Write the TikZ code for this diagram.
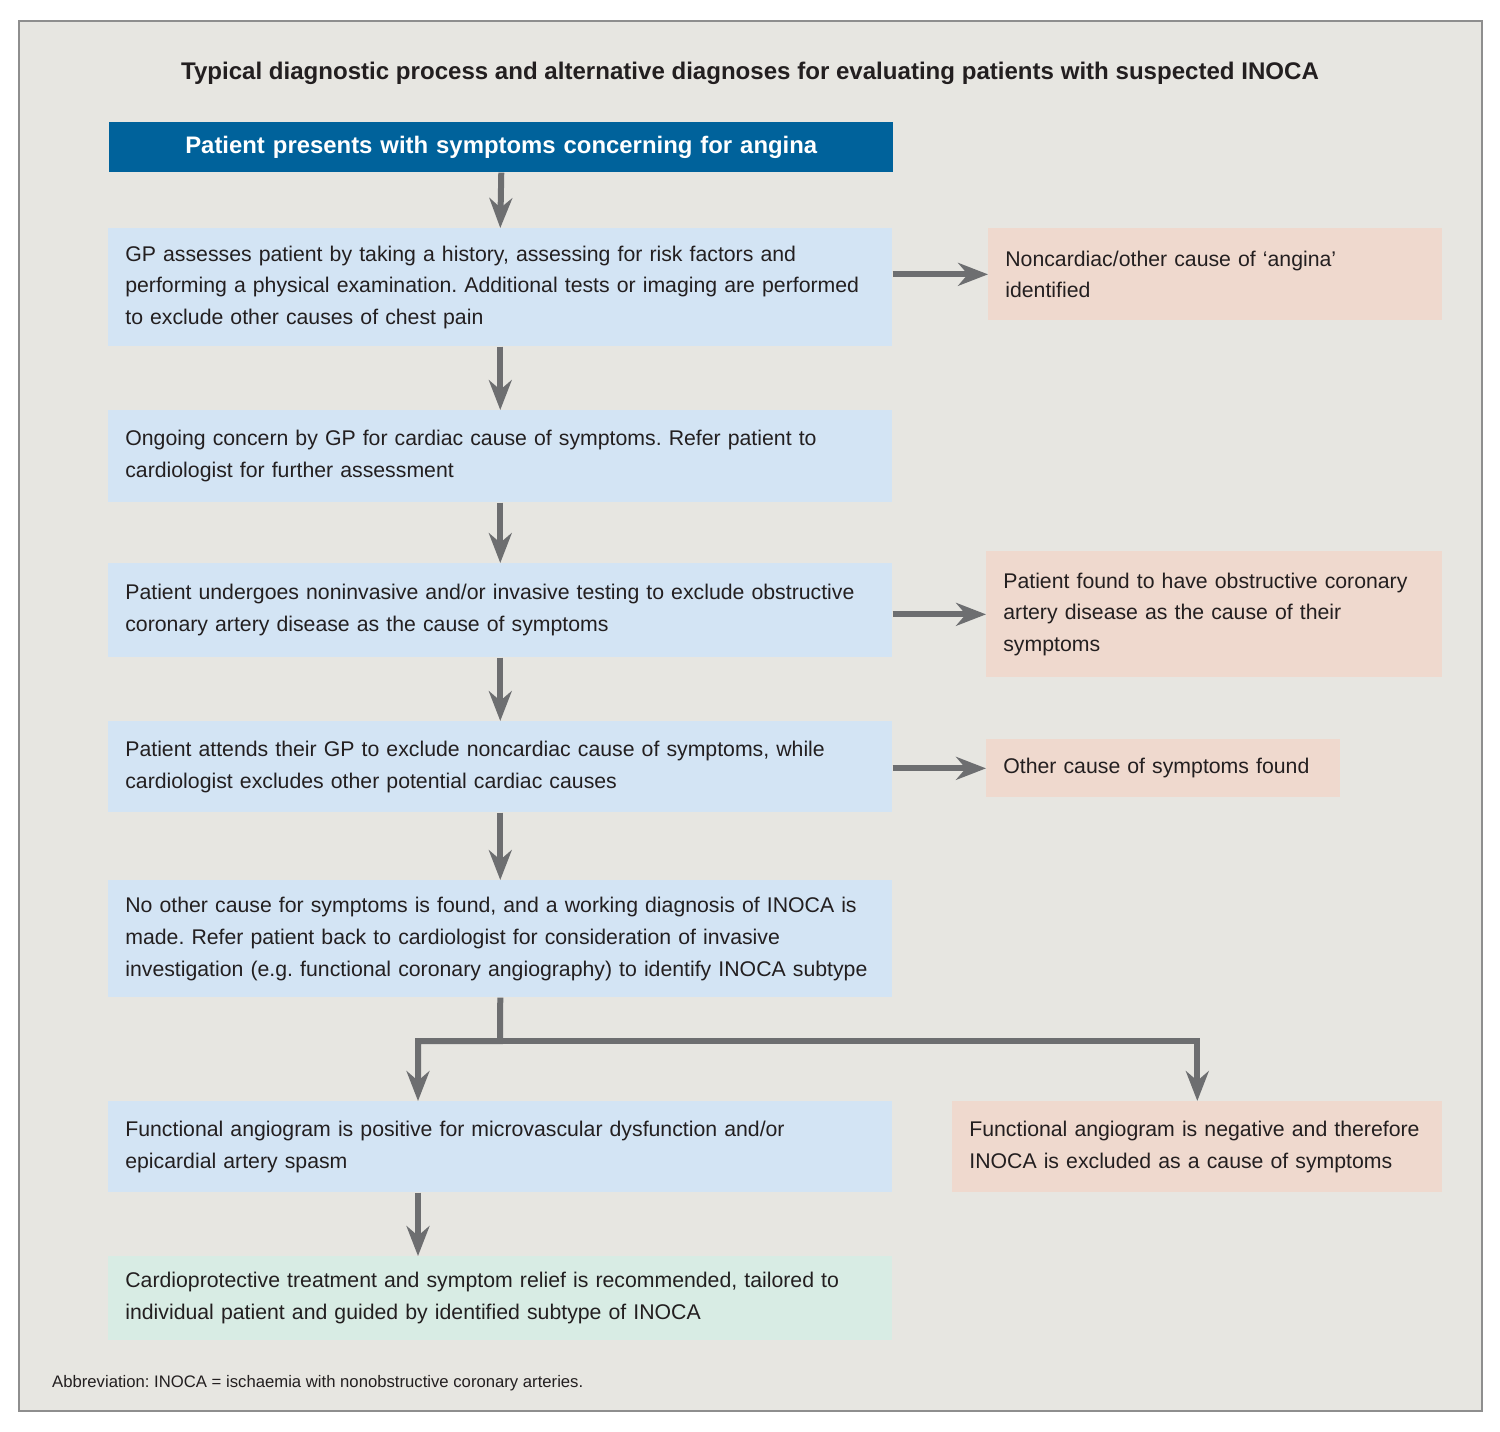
\documentclass[tikz,border=0pt]{standalone}
\usepackage{fontspec}
\setmainfont{Liberation Sans}
\usetikzlibrary{arrows.meta}

\definecolor{paper}{HTML}{E7E6E1}
\definecolor{framegray}{HTML}{8E8E8E}
\definecolor{headblue}{HTML}{00629B}
\definecolor{boxblue}{HTML}{D3E4F4}
\definecolor{boxpink}{HTML}{EFD9CE}
\definecolor{boxgreen}{HTML}{D8ECE4}
\definecolor{arrowgray}{HTML}{6D6E70}
\definecolor{inkblack}{HTML}{231F20}

\frenchspacing
\hyphenpenalty=10000
\tikzset{%
	stepbox/.style={anchor=north west, inner xsep=0.34cm, inner ysep=0pt, align=left,%
		text=inkblack, font=\fontsize{12.1}{18.1}\selectfont},%
	mainbox/.style={stepbox, fill=boxblue, text width=15cm},%
	sidebox/.style={stepbox, fill=boxpink},%
	flow/.style={draw=arrowgray, line width=0.12cm,%
		-{Stealth[length=17pt, width=13pt, inset=5.5pt]}},%
}

\begin{document}
\begin{tikzpicture}[x=0.02cm, y=-0.02cm] % 図の開始
\useasboundingbox (0,0) rectangle (1500,1431);
\draw[framegray, fill=paper, line width=0.8pt] (19,21) rectangle (1482,1411);

\node[font=\bfseries\fontsize{13.7}{16}\selectfont, text=inkblack] (title) at (750,73)%
	{Typical diagnostic process and alternative diagnoses for evaluating patients with suspected INOCA};

\node[stepbox, fill=headblue, text=white, align=center, text width=15cm, minimum height=1cm,%
	font=\bfseries\fontsize{13.6}{16}\selectfont] (top) at (109,122)%
	{Patient presents with symptoms concerning for angina};

% 左の列
\node[mainbox, minimum height=2.36cm] (b1) at (108,228)%
	{GP assesses patient by taking a history, assessing for risk factors and\\ performing a physical examination. Additional tests or imaging are performed\\ to exclude other causes of chest pain};
\node[mainbox, minimum height=1.84cm] (b2) at (108,410)%
	{Ongoing concern by GP for cardiac cause of symptoms. Refer patient to\\ cardiologist for further assessment};
\node[mainbox, minimum height=1.88cm] (b3) at (108,563)%
	{Patient undergoes noninvasive and/or invasive testing to exclude obstructive\\ coronary artery disease as the cause of symptoms};
\node[mainbox, minimum height=1.82cm] (b4) at (108,721)%
	{Patient attends their GP to exclude noncardiac cause of symptoms, while\\ cardiologist excludes other potential cardiac causes};
\node[mainbox, minimum height=2.34cm] (b5) at (108,880)%
	{No other cause for symptoms is found, and a working diagnosis of INOCA is\\ made. Refer patient back to cardiologist for consideration of invasive\\ investigation (e.g. functional coronary angiography) to identify INOCA subtype};
\node[mainbox, minimum height=1.82cm] (b6) at (108,1101)%
	{Functional angiogram is positive for microvascular dysfunction and/or\\ epicardial artery spasm};
\node[mainbox, fill=boxgreen, minimum height=1.68cm] (b7) at (108,1256)%
	{Cardioprotective treatment and symptom relief is recommended, tailored to\\ individual patient and guided by identified subtype of INOCA};

% 右の列
\node[sidebox, text width=8.4cm, minimum height=1.84cm] (r1) at (988,228)%
	{Noncardiac/other cause of ‘angina’\\ identified};
\node[sidebox, text width=8.44cm, minimum height=2.52cm] (r3) at (986,551)%
	{Patient found to have obstructive coronary\\ artery disease as the cause of their\\ symptoms};
\node[sidebox, text width=6.4cm, minimum height=1.16cm] (r4) at (986,739)%
	{Other cause of symptoms found};
\node[sidebox, text width=9.12cm, minimum height=1.82cm] (r6) at (952,1101)%
	{Functional angiogram is negative and therefore\\ INOCA is excluded as a cause of symptoms};

\node[anchor=west, text=inkblack, font=\fontsize{9.5}{11}\selectfont] (note) at (46,1383)%
	{Abbreviation: INOCA = ischaemia with nonobstructive coronary arteries.};

% 矢印
\foreach \a/\b in%
{%
	top/b1,b1/b2,b2/b3,b3/b4,b4/b5%
}{%
	\draw[flow] (\a.south) -- (\b.north);
}%
\foreach \a/\b in%
{%
	b1/r1,b3/r3,b4/r4%
}{%
	\draw[flow] (\b.west -| \a.east) -- (\b.west);
}%
\coordinate (fork) at (500,1041);
\coordinate (leftx) at (418,0);
\draw[flow] (b5.south) -- (fork) -| (b6.north -| leftx);
\draw[flow] (fork) -| (r6.north);
\draw[flow] (b6.south -| leftx) -- (b7.north -| leftx);
\end{tikzpicture}
\end{document}
